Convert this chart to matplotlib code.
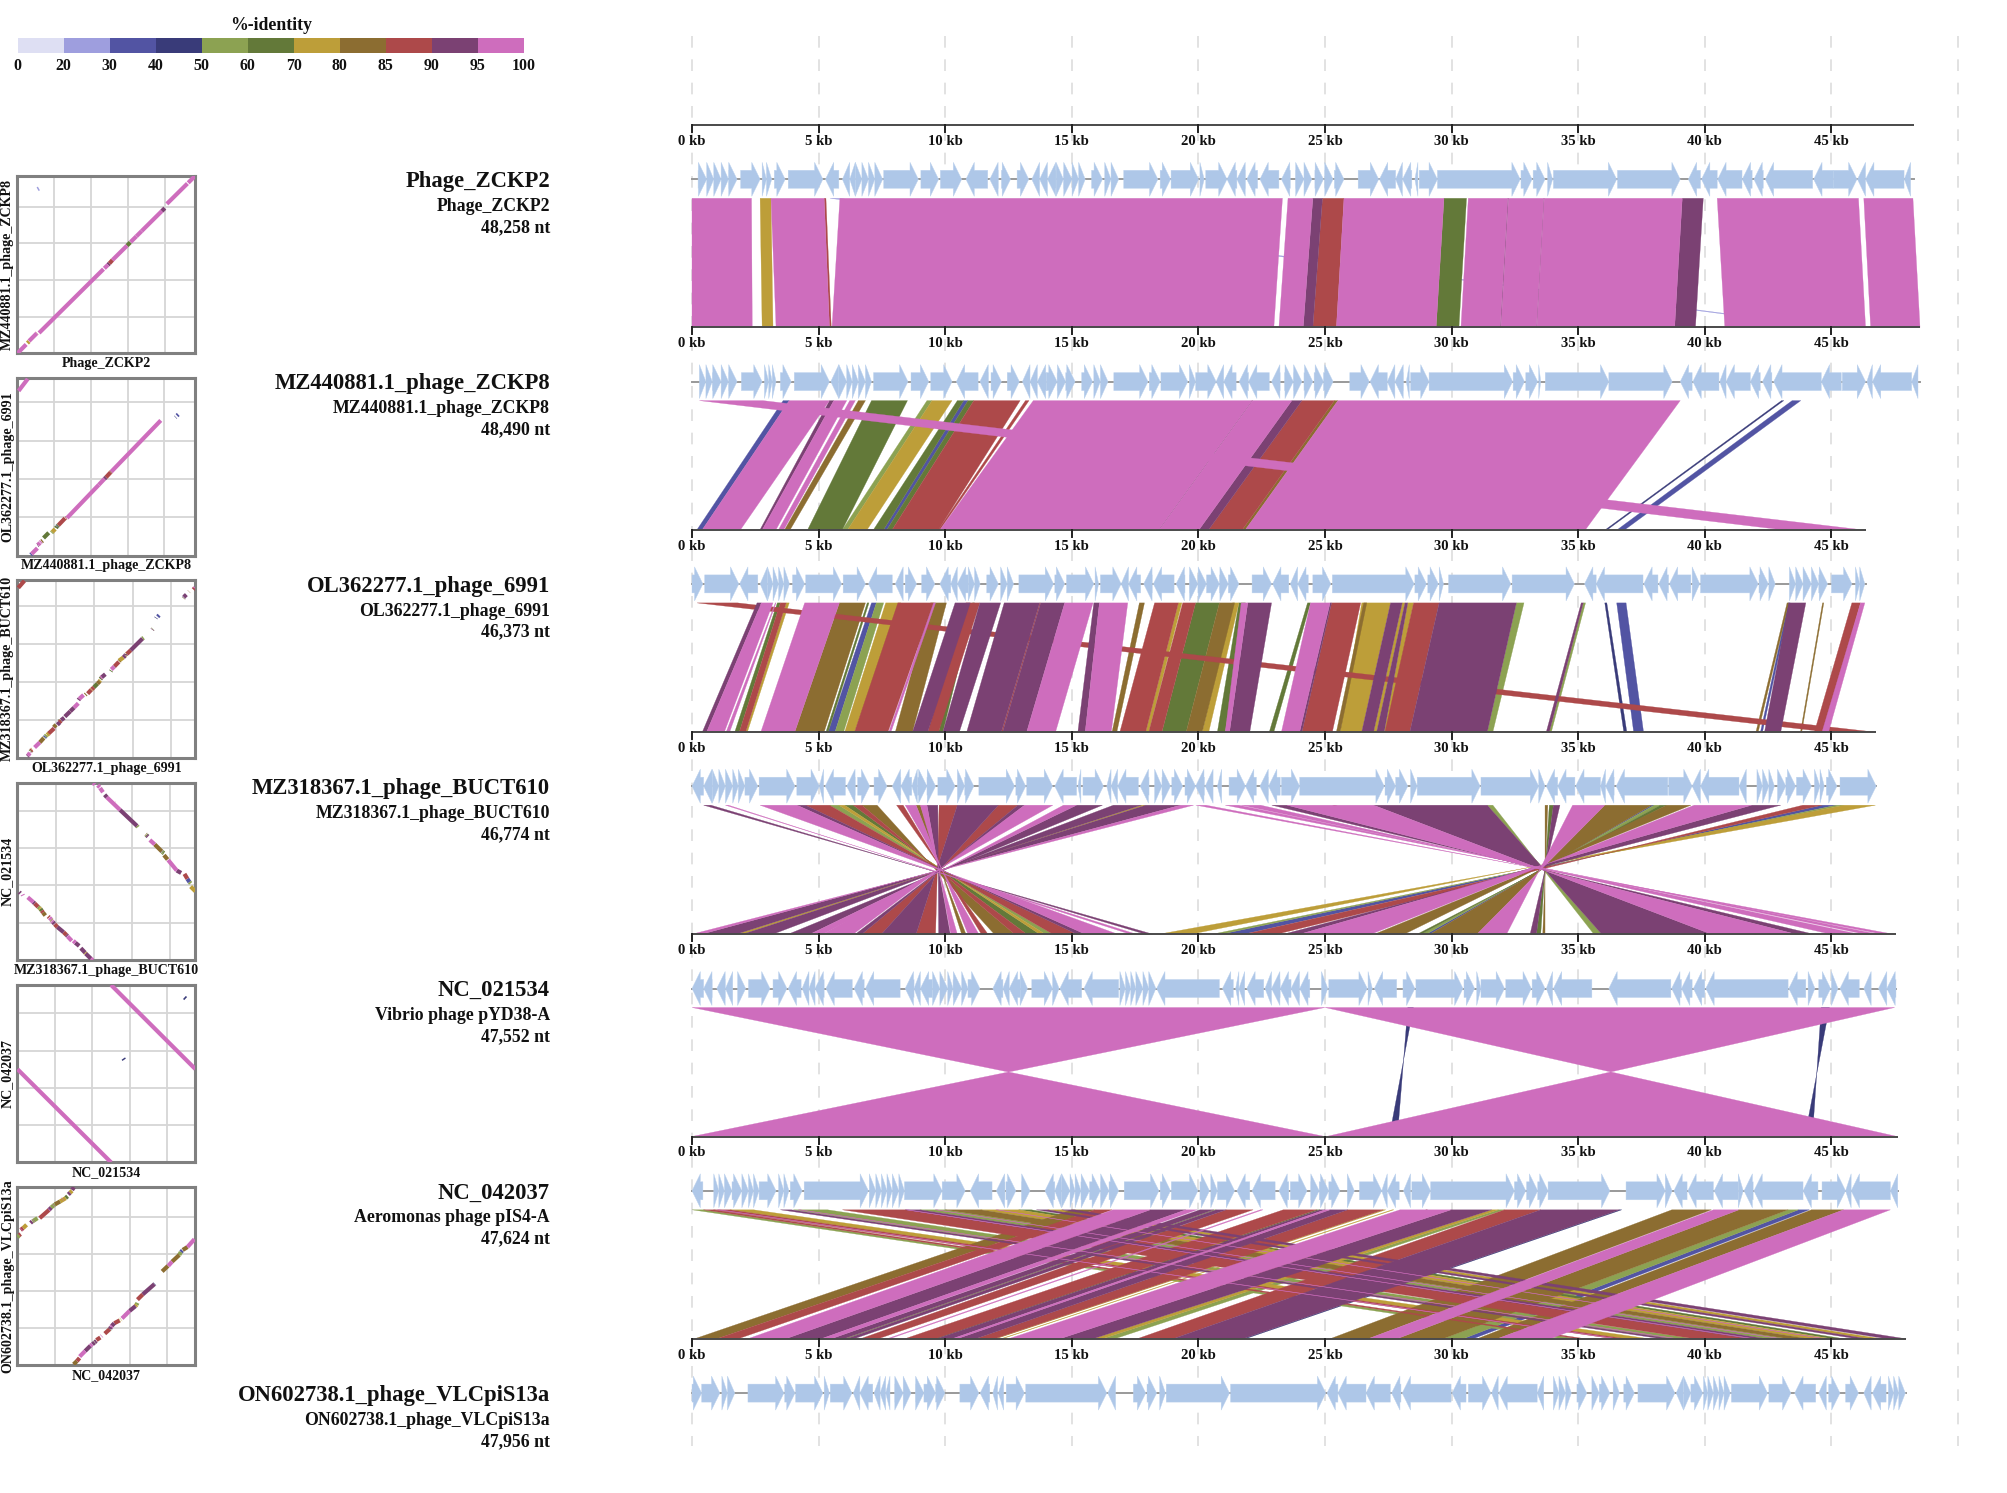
from __future__ import annotations

import matplotlib

matplotlib.use("Agg")
import matplotlib.pyplot as plt
from matplotlib.colors import BoundaryNorm, ListedColormap
from matplotlib.patches import Polygon

NAMES = ["Phage_ZCKP2", "MZ440881.1_phage_ZCKP8", "OL362277.1_phage_6991", "MZ318367.1_phage_BUCT610",
         "NC_021534", "NC_042037", "ON602738.1_phage_VLCpiS13a"]
DESCRIPTIONS = ["Phage_ZCKP2", "MZ440881.1_phage_ZCKP8", "OL362277.1_phage_6991", "MZ318367.1_phage_BUCT610",
                "Vibrio phage pYD38-A", "Aeromonas phage pIS4-A", "ON602738.1_phage_VLCpiS13a"]
LENGTHS_NT = [48258, 48490, 46373, 46774, 47552, 47624, 47956]

IDENTITY_BOUNDS = [0, 20, 30, 40, 50, 60, 70, 80, 85, 90, 95, 100]
IDENTITY_COLORS = ["#dedff3", "#9e9ede", "#5254a3", "#393b79", "#8ca252", "#637939",
                   "#bd9e39", "#8c6d31", "#ad494a", "#7b4173", "#ce6dbd"]

# genes: start kb, end kb, strand
GENES_1 = [(.24,.58,1),(.58,.86,1),(.86,1.15,1),(1.15,1.44,1),(1.44,1.78,1),(1.92,2.69,1),(2.77,2.94,1),(2.94,3.15,1),
           (3.25,3.68,1),(3.80,5.17,1),(5.27,5.80,-1),(5.94,6.23,-1),(6.23,6.45,-1),(6.45,6.71,1),(6.71,6.97,1),
           (6.97,7.22,1),(7.22,7.53,1),(7.57,8.94,1),(9.04,9.74,1),(9.81,10.65,1),(10.82,11.68,-1),(11.76,12.10,-1),
           (12.22,12.58,1),(12.84,13.30,1),(13.42,13.73,-1),(13.73,14.04,-1),(14.04,14.38,-1),(14.38,14.67,1),
           (14.67,15.01,1),(15.01,15.27,1),(15.27,15.53,1),(15.78,16.21,1),(16.30,16.55,1),(16.55,16.85,1),
           (17.05,18.40,1),(18.49,18.90,1),(18.92,20.01,1),(20.06,20.23,1),(20.29,21.13,1),(21.13,21.52,-1),
           (21.52,21.86,-1),(21.91,22.34,-1),(22.43,23.18,-1),(23.28,23.63,-1),(23.83,24.17,1),(24.17,24.48,1),
           (24.60,24.94,1),(24.98,25.32,1),(25.37,25.75,1),(26.31,27.12,1),(27.15,27.79,-1),(27.79,28.06,-1),
           (28.06,28.43,-1),(28.55,28.67,-1),(28.72,29.44,1),(29.44,32.71,1),(32.74,33.18,1),(33.22,33.69,1),
           (33.79,33.99,1),(34.02,36.52,1),(36.55,39.03,1),(39.35,39.83,-1),(39.87,40.49,-1),(40.51,41.47,-1),
           (41.48,41.87,-1),(41.94,42.31,-1),(42.39,44.26,-1),(44.30,45.07,-1),(45.07,46.01,1),(46.03,46.35,-1),
           (46.35,47.87,-1),(47.88,48.13,-1)]
GENES_2 = [(.29,.55,1),(.55,.80,1),(.80,1.15,1),(1.15,1.44,1),(1.44,1.78,1),(1.95,2.77,1),(2.86,3.03,1),(3.03,3.17,1),
           (3.17,3.32,1),(3.49,3.92,1),(4.04,5.43,1),(5.48,5.80,-1),(5.80,6.11,1),(6.11,6.33,1),(6.33,6.57,1),
           (6.57,6.85,1),(6.85,7.09,1),(7.17,8.53,1),(8.65,9.35,1),(9.43,10.27,1),(10.44,11.30,-1),(11.37,11.71,-1),
           (11.81,12.22,1),(12.45,12.93,1),(13.05,13.35,-1),(13.35,13.64,-1),(13.64,13.99,-1),(13.99,14.42,1),
           (14.42,14.76,1),(14.76,15.13,1),(15.39,15.82,1),(15.87,16.13,1),(16.13,16.43,1),(16.66,18.01,1),
           (18.06,18.49,1),(18.52,19.58,1),(19.64,19.89,1),(19.89,20.70,1),(20.70,21.00,-1),(21.00,21.49,-1),
           (21.61,21.98,-1),(21.98,22.80,-1),(22.89,23.23,-1),(23.40,23.75,1),(23.75,24.09,1),(24.17,24.52,1),
           (24.57,24.94,1),(24.94,25.32,1),(25.98,26.75,1),(26.78,27.46,-1),(27.46,27.76,-1),(27.76,28.10,-1),
           (28.21,28.33,-1),(28.38,29.11,1),(29.11,32.41,1),(32.43,32.88,1),(32.93,33.40,1),(33.44,33.52,1),
           (33.70,36.21,1),(36.21,38.71,1),(39.03,39.50,-1),(39.53,40.56,-1),(40.59,40.84,-1),(40.84,41.80,-1),
           (41.80,42.19,-1),(42.28,42.65,-1),(42.72,44.60,-1),(44.60,45.39,-1),(45.43,46.35,1),(46.40,46.62,-1),
           (46.62,48.17,-1),(48.17,48.42,-1)]
GENES_3 = [(0,.43,1),(.50,1.85,1),(1.88,2.60,-1),(2.69,2.98,-1),(2.98,3.20,1),(3.20,3.42,1),(3.42,3.63,1),(3.63,3.85,1),
           (3.97,4.45,1),(4.49,5.91,1),(5.97,6.85,1),(6.97,7.91,-1),(8.03,8.34,-1),(8.42,8.87,1),(9.07,9.59,1),
           (9.79,10.22,-1),(10.22,10.48,-1),(10.48,10.91,-1),(10.91,11.16,1),(11.16,11.38,1),(11.64,12.10,1),
           (12.19,12.45,1),(12.45,12.70,1),(12.91,14.28,1),(14.33,14.72,1),(14.79,15.87,1),(15.92,16.06,1),
           (16.13,16.95,1),(16.95,17.24,-1),(17.24,17.72,-1),(17.84,18.18,-1),(18.22,19.04,-1),(19.12,19.47,-1),
           (19.64,19.98,1),(19.98,20.32,1),(20.32,20.83,1),(20.83,21.18,1),(21.18,21.60,1),(22.12,22.89,1),
           (22.93,23.57,-1),(23.63,23.92,-1),(23.92,24.34,-1),(24.52,25.23,1),(25.29,28.52,1),(28.55,29.01,1),
           (29.06,29.48,1),(29.51,29.68,1),(29.88,32.34,1),(32.39,34.85,1),(35.25,35.71,-1),(35.71,37.56,-1),
           (37.59,38.15,-1),(38.18,38.57,-1),(38.60,39.45,-1),(39.50,39.80,1),(39.83,42.11,1),(42.14,42.51,1),
           (42.53,42.78,1),(43.34,43.59,1),(43.59,43.88,1),(43.88,44.21,1),(44.21,44.50,1),(44.50,44.85,1),
           (45.00,45.81,1),(45.95,46.12,1),(46.12,46.32,1)]
GENES_4 = [(0,.46,-1),(.46,.80,-1),(.80,1.06,1),(1.06,1.32,1),(1.32,1.61,1),(1.61,1.83,1),(1.83,2.09,1),(2.09,2.60,1),
           (2.65,4.07,1),(4.14,5.03,1),(5.03,5.20,-1),(5.26,6.06,-1),(6.11,6.45,-1),(6.54,7.02,1),(7.19,7.70,1),
           (7.91,8.25,-1),(8.25,8.68,-1),(8.68,8.90,-1),(8.90,9.28,1),(9.28,9.62,1),(9.71,10.39,1),(10.48,10.77,1),
           (10.77,11.13,1),(11.33,12.74,1),(12.79,13.18,1),(13.22,14.24,1),(14.33,15.19,-1),(15.24,15.36,-1),
           (15.44,16.25,1),(16.38,16.55,-1),(16.55,16.81,-1),(16.81,17.63,-1),(17.70,18.05,-1),(18.27,18.56,1),
           (18.56,18.90,1),(18.95,19.38,1),(19.47,19.89,1),(19.89,20.24,-1),(20.27,20.58,-1),(20.75,20.92,-1),
           (21.21,21.86,1),(21.86,22.29,-1),(22.43,22.77,-1),(22.77,23.23,-1),(23.28,24.00,1),(24.00,27.34,1),
           (27.37,27.79,1),(27.79,28.27,1),(28.38,28.64,1),(28.64,31.13,1),(31.16,33.44,1),(33.44,33.69,1),
           (33.74,34.19,-1),(34.19,34.87,-1),(34.90,35.88,-1),(35.88,36.08,-1),(36.08,36.42,-1),(36.50,38.54,-1),
           (38.57,39.50,1),(39.50,39.83,-1),(39.83,41.35,-1),(41.35,41.64,-1),(42.06,42.28,1),(42.28,42.53,1),
           (42.53,42.75,1),(42.87,43.20,1),(43.20,43.59,1),(43.62,44.21,1),(44.33,44.55,1),(44.55,44.72,1),
           (44.80,45.22,1),(45.34,46.77,1)]
GENES_5 = [(0,.46,-1),(.46,.80,-1),(.98,1.32,-1),(1.32,1.61,-1),(1.80,2.12,1),(2.23,3.08,1),(3.20,3.75,1),(3.80,4.31,-1),
           (4.35,4.62,-1),(4.62,4.86,-1),(4.86,5.22,-1),(5.29,6.33,-1),(6.40,6.80,-1),(6.85,8.22,-1),(8.42,8.77,-1),
           (8.77,9.02,-1),(9.02,9.50,-1),(9.50,9.79,1),(9.79,10.10,1),(10.10,10.31,1),(10.31,10.65,1),(10.65,10.90,1),
           (10.90,11.37,1),(11.88,12.28,-1),(12.28,12.53,-1),(12.53,12.96,-1),(12.96,13.25,1),(13.42,14.24,1),
           (14.24,14.50,1),(14.53,15.39,-1),(15.48,16.85,-1),(16.90,17.12,1),(17.12,17.33,1),(17.33,17.53,1),
           (17.53,17.81,1),(17.81,18.04,1),(18.04,18.32,1),(18.35,20.83,-1),(20.95,21.38,-1),(21.47,21.60,-1),
           (21.60,21.83,-1),(21.91,22.58,-1),(22.63,22.89,-1),(22.89,23.23,-1),(23.23,23.66,-1),(23.66,24.00,-1),
           (24.00,24.40,-1),(24.86,25.11,1),(25.15,26.67,1),(26.70,26.87,1),(26.95,27.83,-1),(28.08,28.55,1),
           (28.59,30.45,1),(30.49,30.91,1),(30.99,31.16,1),(31.16,32.09,1),(32.14,33.15,1),(33.18,33.69,1),
           (33.74,33.99,-1),(34.02,35.54,-1),(36.21,38.66,-1),(38.69,39.08,-1),(39.08,39.50,-1),(39.55,40.00,-1),
           (40.04,43.29,-1),(43.32,43.99,-1),(44.08,44.35,1),(44.50,44.97,1),(45.00,45.26,1),(45.34,46.10,-1),
           (46.28,46.57,-1),(46.86,47.19,-1),(47.19,47.55,-1)]
GENES_6 = [(0,.43,-1),(.86,1.06,1),(1.06,1.28,1),(1.28,1.58,1),(1.58,1.97,1),(1.97,2.23,1),(2.23,2.43,1),(2.43,2.65,1),
           (2.65,3.32,1),(3.42,3.63,1),(3.63,3.83,1),(3.88,4.35,1),(4.43,6.97,1),(7.0,7.26,1),(7.26,7.48,1),
           (7.48,7.70,1),(7.70,7.91,1),(7.91,8.17,1),(8.17,8.39,1),(8.39,9.88,1),(9.88,10.79,1),(10.99,11.85,-1),
           (12.02,12.36,-1),(12.40,12.79,1),(13.01,13.35,1),(13.94,14.33,-1),(14.33,14.59,-1),(14.59,14.93,1),
           (14.93,15.13,1),(15.13,15.36,1),(15.36,15.70,1),(15.70,16.13,1),(16.13,16.47,1),(16.47,16.85,1),
           (17.07,18.44,1),(18.49,18.90,1),(18.93,19.98,1),(20.06,20.44,1),(20.49,20.75,1),(20.75,21.43,1),
           (21.52,22.03,-1),(22.12,23.03,-1),(23.18,23.57,-1),(23.63,24.29,1),(24.43,24.77,1),(24.77,25.15,1),
           (25.15,25.59,1),(25.88,26.16,1),(26.36,27.24,1),(27.24,27.46,-1),(27.46,27.93,-1),(28.10,28.38,-1),
           (28.43,29.17,1),(29.17,32.48,1),(32.48,32.93,1),(32.96,33.40,1),(33.40,33.81,1),(33.81,36.25,1),
           (36.89,38.44,1),(38.44,38.71,1),(38.78,39.30,-1),(39.33,40.34,-1),(40.37,41.32,-1),(41.32,41.52,1),
           (41.55,41.91,-1),(41.94,43.88,-1),(43.88,44.47,-1),(44.63,45.56,1),(45.56,45.78,-1),(45.78,47.33,-1),
           (47.33,47.62,-1)]
GENES_7 = [(0,.38,1),(.38,1.10,1),(1.18,1.40,1),(1.40,1.69,1),(2.21,3.63,1),(3.66,4.07,1),(4.09,5.17,1),(5.22,5.43,1),
           (5.46,6.32,1),(6.37,6.63,-1),(6.63,7.14,-1),(7.19,7.43,-1),(7.43,7.65,-1),(7.65,7.82,-1),(8.00,8.34,1),
           (8.34,8.65,1),(8.82,9.16,1),(9.16,9.62,1),(9.62,9.99,1),(10.58,11.33,1),(11.38,11.76,-1),(11.88,12.07,-1),
           (12.10,12.31,-1),(12.41,13.13,1),(13.18,16.38,1),(16.42,16.73,-1),(17.43,17.92,1),(17.97,18.35,1),
           (18.47,18.70,1),(18.73,21.23,1),(21.27,25.03,1),(25.08,25.51,-1),(25.51,26.62,-1),(26.62,27.58,-1),
           (27.63,28.0,-1),(28.05,29.98,-1),(30.02,30.57,-1),(30.66,31.55,1),(31.58,31.84,-1),(31.87,33.38,-1),
           (33.38,33.64,-1),(34.02,34.24,1),(34.24,34.50,1),(34.50,34.73,1),(34.95,35.34,1),(35.54,35.83,1),
           (35.83,36.25,1),(36.38,36.63,1),(36.80,37.22,1),(37.36,38.82,1),(38.87,39.16,-1),(39.16,39.45,1),
           (39.45,39.92,1),(39.95,40.12,1),(40.12,40.34,1),(40.34,40.56,1),(40.56,40.76,1),(40.76,41.01,1),
           (41.05,42.48,1),(42.53,43.40,1),(43.55,44.38,-1),(44.50,44.80,-1),(44.89,45.34,1),(45.56,46.07,1),
           (46.28,46.57,-1),(46.62,47.16,-1),(47.25,47.46,1),(47.46,47.66,1),(47.66,47.92,1)]

# alignments: upper start, upper end, lower start, lower end (kb), %-identity
RIBBONS_1 = [(0,2.35,0,2.38,97),(2.69,3.12,2.77,3.20,75),(3.12,5.22,3.32,5.43,97),(5.22,5.29,5.43,5.5,87),
             (5.84,23.32,5.53,22.98,97),(23.54,24.52,23.18,24.14,97),(24.52,24.90,24.14,24.52,92),
             (24.90,25.75,24.52,25.45,87),(25.75,29.70,25.45,29.39,97),(29.70,30.59,29.39,30.29,65),
             (30.66,32.22,30.37,31.92,97),(32.22,32.25,31.92,31.95,92),(32.25,33.64,31.95,33.35,97),
             (33.64,33.66,33.35,33.37,92),(33.66,39.11,33.37,38.81,97),(39.11,39.94,38.81,39.63,92),
             (40.49,46.07,40.79,46.35,97),(46.28,48.22,46.55,48.50,97),(5.45,5.8,44.8,45.0,25)]
RIBBONS_2 = [(3.6,3.84,.2,.41,35),(3.84,5.43,.41,1.92,97),(5.43,5.6,2.69,2.78,92),(5.6,6.11,2.78,3.32,97),
             (6.23,6.45,3.42,3.63,97),(6.57,6.85,3.66,3.88,82),(7.09,8.51,4.57,5.94,65),(9.28,9.48,5.94,6.15,55),
             (9.48,10.27,6.15,6.92,75),(10.48,10.73,7.17,7.57,65),(10.73,10.9,7.57,7.7,35),(10.9,11.13,7.7,7.91,65),
             (11.13,12.96,7.91,9.74,87),(13.17,13.31,9.73,9.80,87),(13.48,22.12,9.80,18.44,97),
             (22.12,22.14,18.44,18.46,92),(22.14,23.69,18.46,20.03,97),(23.69,24.09,20.03,20.41,92),
             (24.09,25.37,20.41,21.74,87),(25.37,25.51,21.74,21.86,82),(25.51,39.03,21.86,35.29,97),
             (43.03,43.12,36.08,36.16,45),(43.45,43.79,36.55,36.85,35),(.29,2.8,43.0,46.15,97)]
RIBBONS_3 = [(2.57,2.74,.41,.58,92),(2.74,3.20,.58,1.28,97),(3.29,3.32,1.35,1.49,97),(3.37,3.49,1.69,1.87,65),
             (3.49,3.72,1.87,2.12,87),(3.72,3.84,2.12,2.19,75),(4.45,5.82,2.72,4.06,97),(5.82,6.85,4.06,5.22,82),
             (6.92,6.99,5.29,5.38,65),(7.09,7.28,5.38,5.65,35),(7.28,7.57,5.65,5.99,55),(7.65,8.25,6.03,6.42,75),
             (8.13,9.54,6.42,7.74,87),(9.54,9.62,7.77,7.86,97),(9.42,10.05,8.03,8.71,82),(10.39,10.99,8.71,9.31,92),
             (10.82,11.37,9.31,9.74,87),(11.08,11.16,9.74,9.91,65),(11.37,12.19,9.91,10.56,92),
             (12.33,13.73,10.85,12.22,92),(13.73,13.77,12.22,12.27,87),(13.77,14.72,12.27,13.22,92),
             (14.72,15.84,13.22,14.36,97),(15.87,16.09,15.24,15.53,92),(16.09,17.21,15.53,16.56,97),
             (17.67,17.87,16.59,16.78,82),(18.27,19.21,16.90,17.92,87),(19.21,19.35,17.92,18.04,75),
             (19.38,19.89,18.04,18.56,87),(19.89,20.83,18.56,19.52,65),(20.83,21.43,19.52,20.15,82),
             (21.35,21.60,20.15,20.41,75),(21.60,21.86,20.75,21.06,65),(21.69,21.95,21.06,21.23,97),
             (21.95,22.89,21.23,22.03,92),(24.31,24.43,22.80,22.98,65),(24.43,25.20,23.28,24.00,97),
             (25.20,25.26,24.00,24.09,92),(25.26,26.41,24.09,25.29,87),(26.45,27.59,25.6,26.45,75),
             (26.53,26.65,25.45,25.6,82),(27.59,28.05,26.45,26.92,92),(28.05,28.16,26.92,27.04,75),
             (28.16,28.27,27.04,27.34,92),(28.27,28.50,27.34,27.42,75),(28.50,29.51,27.37,28.35,87),
             (29.51,32.56,28.35,31.41,92),(32.56,32.86,31.41,31.63,55),(35.12,35.20,33.74,33.86,92),
             (35.20,35.29,33.86,33.94,55),(36.05,36.13,36.80,36.92,45),(36.52,36.89,37.19,37.58,35),
             (43.25,43.32,42.02,42.11,82),(43.32,43.99,42.36,43.0,92),(43.3,43.37,42.2,42.28,35),
             (44.65,44.70,43.78,43.83,82),(45.81,46.15,44.33,44.72,87),(46.15,46.32,44.63,44.89,97),
             (.2,1.8,44.8,46.65,87)]
RIBBONS_4 = [(.46,.75,18.2,17.9,92),(1.32,1.44,17.55,17.3,97),(2.69,4.15,16.82,15.53,97),(4.15,4.48,15.53,15.2,92),
             (4.48,5.43,15.2,14.25,87),(5.43,5.8,14.25,13.95,55),(5.8,6.03,13.95,13.73,75),(6.03,6.37,13.73,13.22,65),
             (6.37,6.71,13.22,12.74,87),(6.71,7.31,12.74,11.94,82),(8.08,8.34,11.69,11.43,87),(8.42,8.85,11.33,10.9,97),
             (8.85,9.02,10.82,10.65,82),(9.02,9.28,10.48,10.22,97),(9.28,9.71,10.2,9.74,92),(9.76,10.48,9.62,8.85,87),
             (10.48,12.1,8.85,7.48,92),(12.1,12.87,7.48,6.71,87),(12.87,13.13,6.71,6.45,92),(13.13,14.25,6.37,5.17,97),
             (14.67,15.19,5.17,4.66,97),(15.19,16.21,4.66,3.80,92),(16.64,17.75,3.2,2.0,92),(17.75,17.92,2.0,1.75,75),
             (17.92,19.29,1.75,.38,92),(19.29,19.81,.38,0,97),(19.9,20.3,47.45,47.0,97),(21.06,21.6,46.85,46.3,97),
             (21.7,22.46,46.1,44.97,97),(22.9,23.5,44.3,43.6,92),(23.5,26.92,43.6,40.26,97),(25.3,25.38,42.05,41.97,87),
             (26.92,31.41,40.26,35.93,92),(31.41,31.63,35.93,35.62,55),(33.69,33.8,33.69,33.6,82),
             (33.86,34.02,33.52,33.35,65),(34.02,34.28,33.35,33.1,92),(34.78,36.05,32.17,31.0,97),
             (36.05,37.9,31.0,29.14,82),(37.9,38.0,29.14,29.0,35),(38.0,38.25,29.0,28.8,55),(38.25,38.49,28.8,28.64,65),
             (38.49,39.45,28.13,26.95,82),(39.58,41.85,26.82,24.0,97),(41.85,43.0,24.0,23.35,92),
             (43.87,44.63,23.1,21.8,87),(44.63,45.2,21.78,20.9,35),(45.2,45.5,20.9,20.55,55),(45.5,46.74,19.7,18.44,75)]
RIBBONS_5 = [(0,25,25,0,97),(25,47.5,47.6,25.05,97),(28.27,28.49,27.86,27.54,45),(44.6,44.92,44.25,43.95,45)]
RIBBONS_6 = [(15.0,15.9,.1,.98,82),(15.9,16.6,.98,1.82,87),(16.63,18.1,2.2,3.7,97),(18.1,19.5,3.7,5.1,92),
             (19.5,19.95,5.1,5.5,97),(20.06,20.6,5.5,6.0,92),(20.6,20.7,6.0,6.1,55),(20.7,21.1,6.1,6.4,92),
             (21.1,22.16,6.65,7.35,87),(22.45,22.55,7.7,7.8,97),(23.35,24.67,8.4,9.6,87),(24.67,24.8,9.55,9.65,65),
             (24.8,25.0,9.65,10.27,92),(25.0,25.2,10.27,10.47,97),(25.2,25.9,10.47,11.2,92),(25.9,27.3,11.2,11.95,87),
             (27.3,27.4,11.95,12.0,75),(27.65,27.72,12.2,12.25,75),(27.96,29.98,12.5,14.53,97),
             (29.0,29.05,13.5,13.55,87),(29.98,31.58,14.53,15.84,92),(31.58,31.85,15.84,16.2,75),
             (31.85,32.09,16.2,16.7,55),(32.09,33.52,17.58,19.0,87),(33.52,36.63,19.0,21.76,92),
             (36.63,36.72,21.76,21.85,45),(38.7,40.26,25.2,26.7,82),(40.34,41.35,26.7,27.84,97),
             (41.35,43.29,27.84,29.66,82),(43.29,43.7,29.66,30.45,55),(43.7,44.13,30.45,30.85,35),
             (44.21,45.48,31.0,31.8,82),(45.48,47.33,31.8,33.9,97),
             (0,.45,34.4,35.0,55),(.45,.85,35.0,35.3,87),(.85,1.5,36.4,36.9,87),(1.5,2.43,36.9,37.8,75),
             (3.49,3.92,38.3,38.7,92),(4.0,5.35,38.7,39.6,55),(5.94,8.42,39.6,41.8,87),(8.42,9.0,41.8,42.45,92),
             (9.0,10.0,42.45,43.3,55),(10.0,11.4,43.3,44.1,82),(11.4,12.9,44.1,45.0,75),(12.9,13.4,45.05,45.5,65),
             (13.6,14.05,46.0,46.45,92),(14.05,14.6,46.45,47.0,75),(14.6,15.1,47.2,47.95,92),(1.0,1.1,36.5,36.6,97),
             (4.2,4.28,38.9,38.98,97),(8.45,8.53,41.9,41.98,97),(9.6,9.68,43.0,43.08,97),(12.0,12.08,44.7,44.78,97)]

GENES = [GENES_1, GENES_2, GENES_3, GENES_4, GENES_5, GENES_6, GENES_7]
RIBBONS = [RIBBONS_1, RIBBONS_2, RIBBONS_3, RIBBONS_4, RIBBONS_5, RIBBONS_6]

W, H = 2008, 1493
KB_PX = 25.32
X0_PX = 692
SPACING = 202.3
GENE_Y = 179.3
RIBBON_TOP = 198.3
RIBBON_BOT = 327.3
FIRST_RULER = 125
SERIF = "Liberation Serif"
GENE_COLOR = "#aec7e8"
HEAD_KB = 0.33

cmap = ListedColormap(IDENTITY_COLORS)
norm = BoundaryNorm(IDENTITY_BOUNDS, len(IDENTITY_COLORS))


def axes_px(fig, left, top, right, bottom):
    return fig.add_axes([left / W, 1 - bottom / H, (right - left) / W, (bottom - top) / H])


def draw_gene(ax, start, end, strand, y):
    head = min(HEAD_KB, end - start)
    half, body = 17, 9
    if strand > 0:
        neck = end - head
        xs = [start, neck, neck, end, neck, neck, start]
    else:
        neck = start + head
        xs = [end, neck, neck, start, neck, neck, end]
    ys = [y - body, y - body, y - half, y, y + half, y + body, y + body]
    ax.add_patch(Polygon(list(zip(xs, ys)), closed=True, fc=GENE_COLOR, ec="#bcd2ee", lw=0.3, zorder=6))


def draw_ruler(ax, y, length_kb):
    ax.plot([0, length_kb], [y, y], color="#4a4a4a", lw=1.4, zorder=7, solid_capstyle="butt")
    for kb in range(0, int(length_kb) + 1, 5):
        ax.plot([kb, kb], [y, y + 7], color="#222222", lw=1.4, zorder=7)
        ax.text(kb, y + 16.5, f"{kb} kb", ha="center", va="center", family=SERIF, weight="bold",
                fontsize=10.6, color="#111111", zorder=8)


def draw_dotplot(fig, i):
    top = 175.7 + 202.3 * i
    ax = axes_px(fig, 17.5, top, 195.5, top + 177.5)
    len_x = LENGTHS_NT[i] / 1000
    len_y = LENGTHS_NT[i + 1] / 1000
    ax.set_xlim(0, len_x)
    ax.set_ylim(0, len_y)
    ax.set_xticks(range(10, int(len_x) + 1, 10))
    ax.set_yticks(range(10, int(len_y) + 1, 10))
    ax.tick_params(length=0, labelbottom=False, labelleft=False)
    ax.grid(True, color="#d6d6d6", lw=1.3)
    ax.set_axisbelow(True)
    for spine in ax.spines.values():
        spine.set_color("#808080")
        spine.set_linewidth(2.2)
    for t0, t1, b0, b1, identity in sorted(RIBBONS[i], key=lambda row: row[4]):
        ax.plot([t0, t1], [b0, b1], color=cmap(norm(identity)), lw=3.0, solid_capstyle="butt",
                zorder=3 + identity / 100)
    fig.text(106.5 / W, 1 - (top + 188) / H, NAMES[i], ha="center", va="center", family=SERIF, weight="bold",
             fontsize=10.1, color="#111111")
    fig.text(7.5 / W, 1 - (top + 88.5) / H, NAMES[i + 1], ha="center", va="center", rotation=90, family=SERIF,
             weight="bold", fontsize=10.1, color="#111111")


def main():
    fig = plt.figure(figsize=(W / 100, H / 100), dpi=100)
    ax = fig.add_axes([0, 0, 1, 1])
    ax.set_xlim(-X0_PX / KB_PX, (W - X0_PX) / KB_PX)
    ax.set_ylim(H, 0)
    ax.axis("off")

    for kb in range(0, 51, 5):
        ax.plot([kb, kb], [36, 1446], color="#dddddd", lw=1.2, dashes=(7, 7), zorder=1)

    draw_ruler(ax, FIRST_RULER, LENGTHS_NT[0] / 1000)
    for i, genes in enumerate(GENES):
        y = GENE_Y + SPACING * i
        length_kb = LENGTHS_NT[i] / 1000
        ax.plot([0, length_kb], [y, y], color="#999999", lw=1.4, zorder=5)
        for start, end, strand in genes:
            draw_gene(ax, start, end, strand, y)

        text_y = 181.5 + SPACING * i
        ax.text((550 - X0_PX) / KB_PX, text_y, NAMES[i], ha="right", va="center", family=SERIF, weight="bold",
                fontsize=16.3, color="#111111")
        ax.text((550 - X0_PX) / KB_PX, text_y + 25, DESCRIPTIONS[i], ha="right", va="center", family=SERIF,
                weight="bold", fontsize=12.8, color="#111111")
        ax.text((550 - X0_PX) / KB_PX, text_y + 46, f"{LENGTHS_NT[i]:,} nt", ha="right", va="center", family=SERIF,
                weight="bold", fontsize=12.8, color="#111111")

    for i, ribbons in enumerate(RIBBONS):
        top = RIBBON_TOP + SPACING * i
        bot = RIBBON_BOT + SPACING * i
        for t0, t1, b0, b1, identity in sorted(ribbons, key=lambda row: row[4]):
            color = cmap(norm(identity))
            ax.add_patch(Polygon([(t0, top), (t1, top), (b1, bot), (b0, bot)], closed=True, fc=color, ec=color,
                                 lw=0.2, zorder=2 + identity / 100))
        draw_ruler(ax, bot, LENGTHS_NT[i + 1] / 1000)
        draw_dotplot(fig, i)

    # legend bins are equal width, whatever their identity range
    leg = axes_px(fig, 17.8, 37.7, 523.7, 53)
    leg.bar(range(len(IDENTITY_COLORS)), [1] * len(IDENTITY_COLORS), width=1, align="edge", color=IDENTITY_COLORS)
    leg.set_xlim(0, len(IDENTITY_COLORS))
    leg.set_ylim(0, 1)
    leg.axis("off")
    step = (523.7 - 17.8) / len(IDENTITY_COLORS)
    for i, bound in enumerate(IDENTITY_BOUNDS):
        fig.text((17.8 + step * i) / W, 1 - 65.5 / H, str(bound), ha="center", va="center", family=SERIF,
                 weight="bold", fontsize=11.4, color="#111111")
    fig.text(271 / W, 1 - 26 / H, "%-identity", ha="center", va="center", family=SERIF, weight="bold",
             fontsize=12.8, color="#111111")

    fig.savefig("out.png", dpi=100)


if __name__ == "__main__":
    main()
